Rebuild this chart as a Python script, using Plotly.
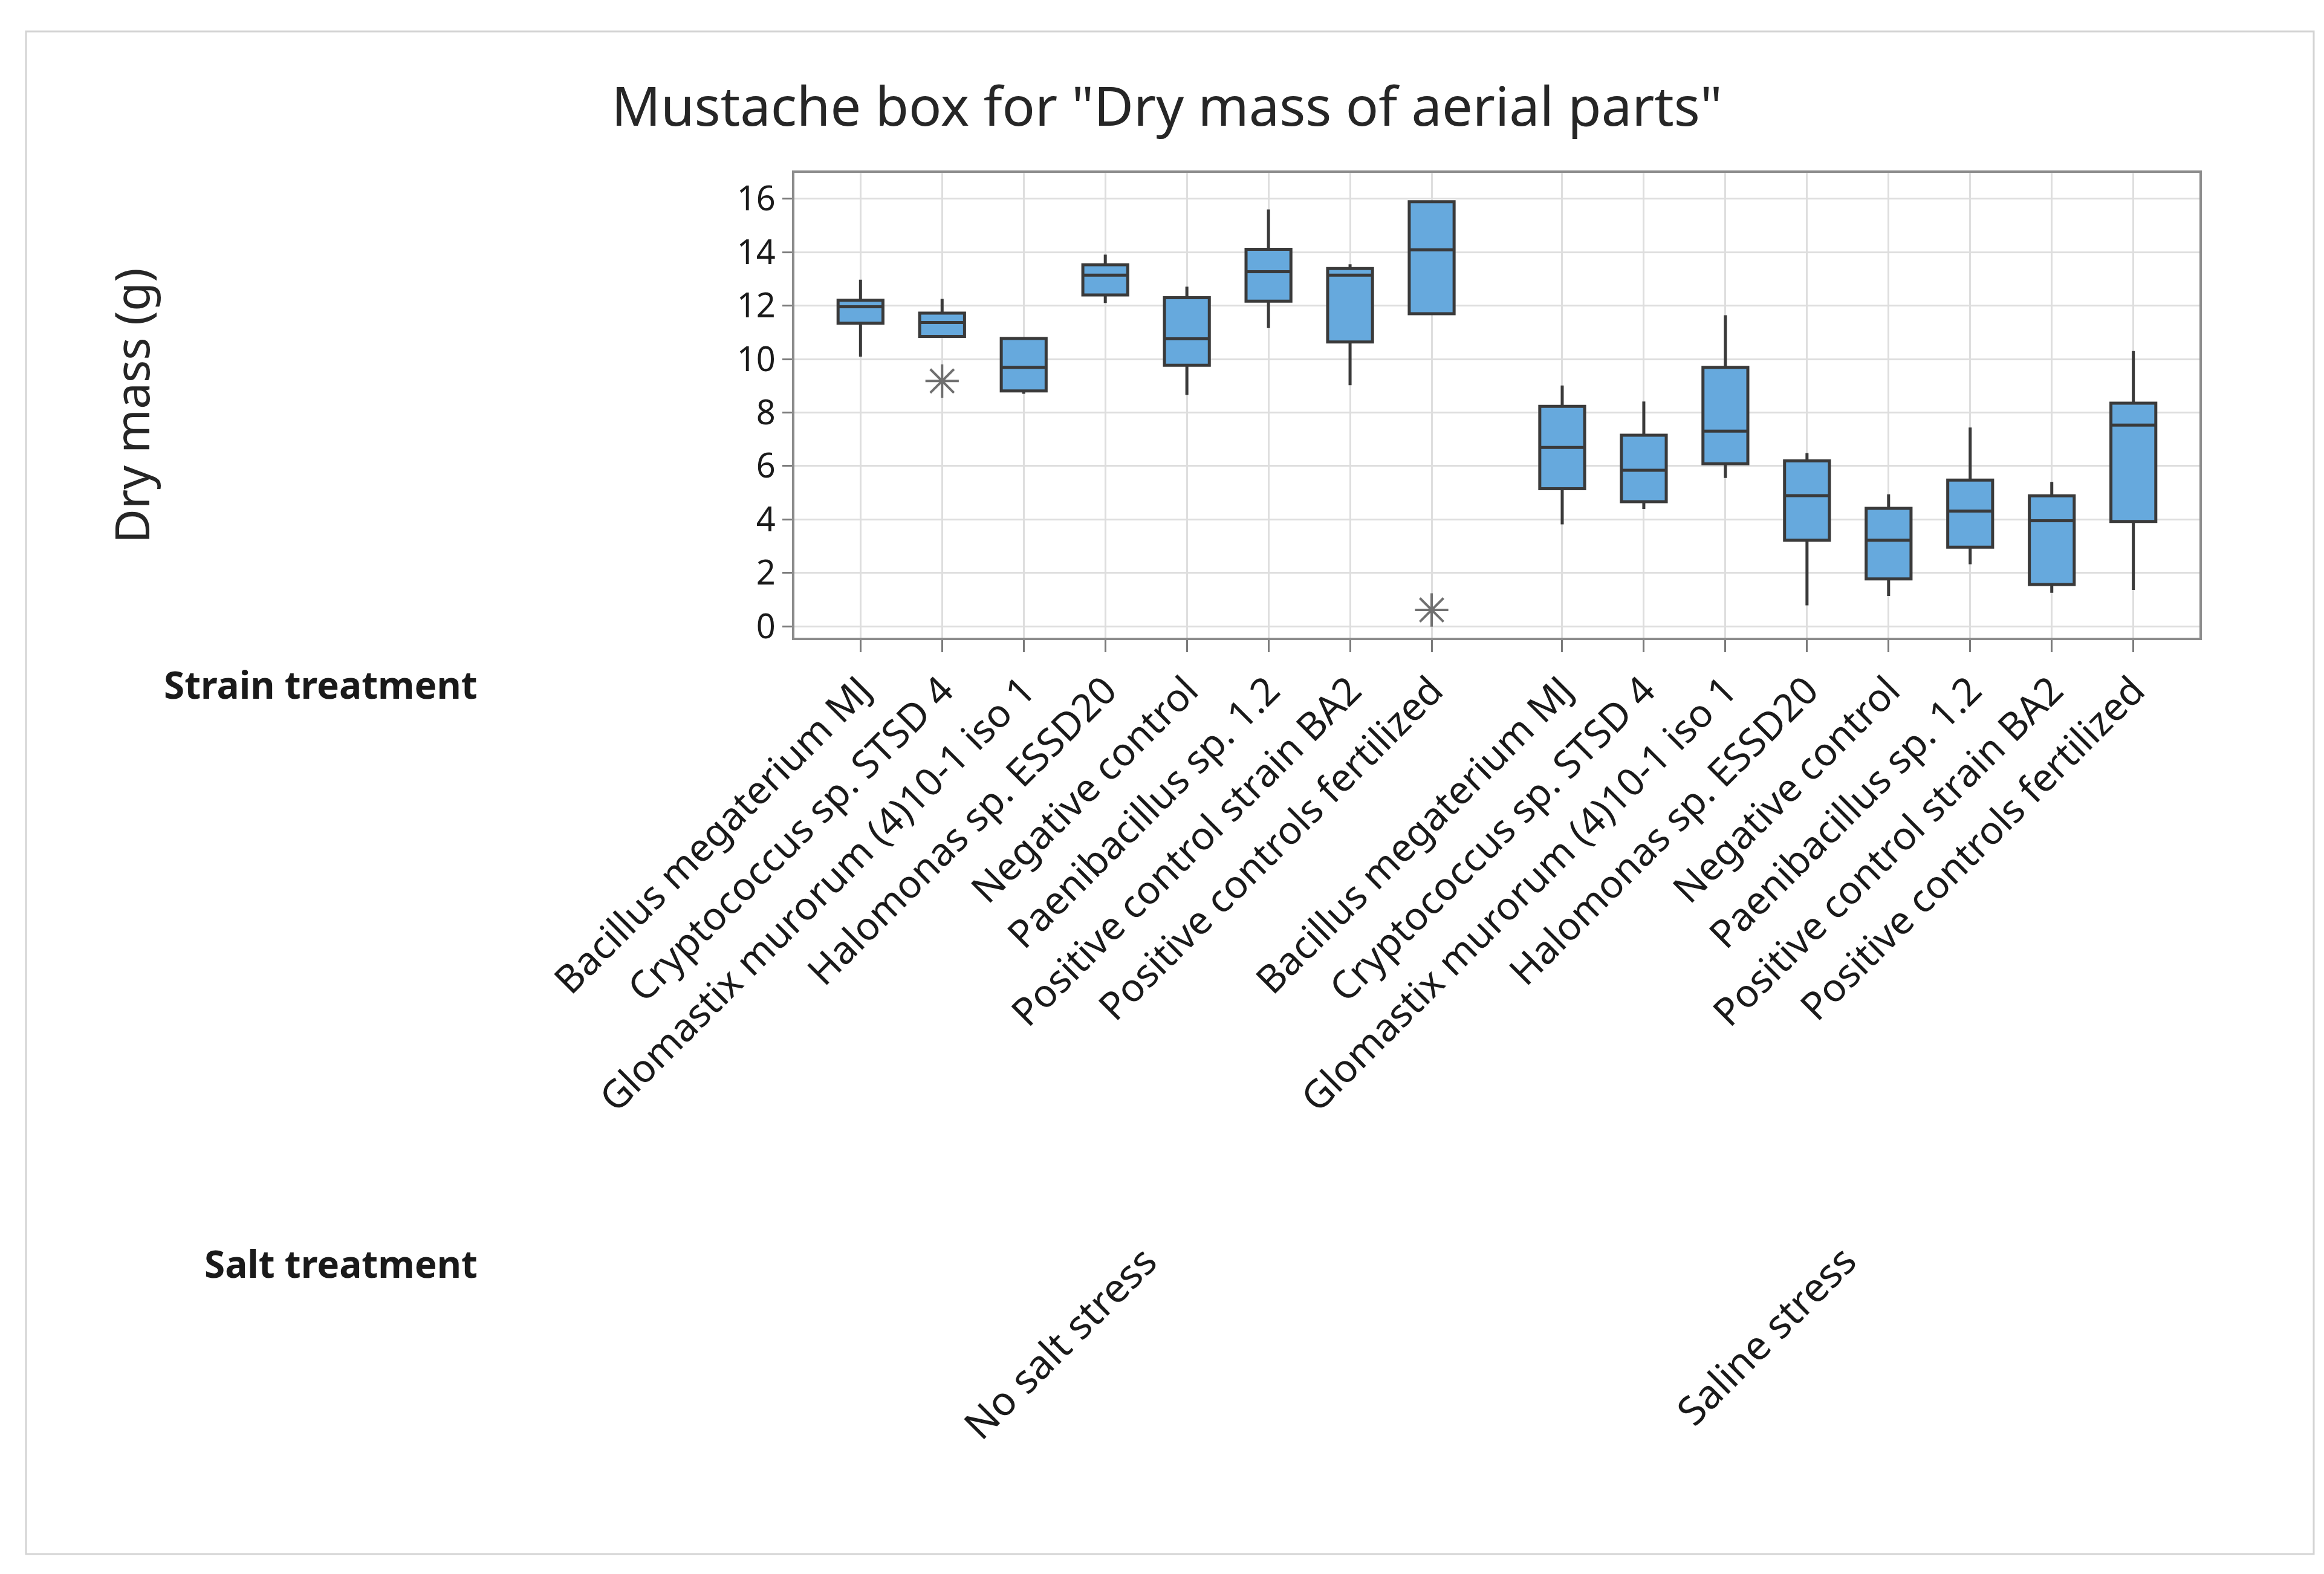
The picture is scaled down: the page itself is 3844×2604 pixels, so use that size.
import plotly.graph_objects as go

# ---------------- data ----------------
strains = [
    "Bacillus megaterium MJ",
    "Cryptococcus sp. STSD 4",
    "Glomastix murorum (4)10-1 iso 1",
    "Halomonas sp. ESSD20",
    "Negative control",
    "Paenibacillus sp. 1.2",
    "Positive control strain BA2",
    "Positive controls fertilized",
]
salt_groups = ["No salt stress", "Saline stress"]

# No salt stress
q1_no = [11.34, 10.85, 8.81, 12.40, 9.77, 12.17, 10.64, 11.70]
med_no = [11.96, 11.37, 9.69, 13.14, 10.76, 13.27, 13.14, 14.09]
q3_no = [12.20, 11.72, 10.77, 13.53, 12.30, 14.11, 13.39, 15.89]
lo_no = [10.09, 10.85, 8.70, 12.10, 8.66, 11.16, 9.02, 11.70]
hi_no = [12.97, 12.25, 10.77, 13.91, 12.71, 15.60, 13.55, 15.89]

# Saline stress
q1_sa = [5.15, 4.66, 6.08, 3.22, 1.77, 2.96, 1.56, 3.92]
med_sa = [6.69, 5.84, 7.30, 4.89, 3.22, 4.31, 3.95, 7.53]
q3_sa = [8.23, 7.15, 9.69, 6.19, 4.41, 5.47, 4.88, 8.35]
lo_sa = [3.81, 4.39, 5.55, 0.78, 1.13, 2.32, 1.25, 1.36]
hi_sa = [9.01, 8.41, 11.64, 6.48, 4.94, 7.44, 5.40, 10.30]

# outliers (strain index within "No salt stress", value)
outlier_idx = [1, 7]
outlier_val = [9.18, 0.61]

y_ticks = [0, 2, 4, 6, 8, 10, 12, 14, 16]

# ---------------- positions ----------------
GAP = 1.6
pos_no = [float(i) for i in range(len(strains))]
pos_sa = [len(strains) - 1 + GAP + i for i in range(len(strains))]
positions = pos_no + pos_sa

FONT = "Noto Sans"
BOX_FILL = "#66A9DD"
EDGE = "#3A3A3A"
GRID = "#DEDEDE"

fig = go.Figure()
fig.add_trace(go.Box(
    x=positions,
    q1=q1_no + q1_sa,
    median=med_no + med_sa,
    q3=q3_no + q3_sa,
    lowerfence=lo_no + lo_sa,
    upperfence=hi_no + hi_sa,
    width=0.55,
    whiskerwidth=0,
    fillcolor=BOX_FILL,
    line=dict(color=EDGE, width=5),
    boxpoints=False,
    showlegend=False,
    hoverinfo="skip",
))
fig.add_trace(go.Scatter(
    x=[pos_no[i] for i in outlier_idx],
    y=outlier_val,
    mode="markers",
    marker=dict(symbol="asterisk-open", size=46,
                line=dict(color="#707070", width=4), color="#707070"),
    showlegend=False,
    hoverinfo="skip",
))

W, H = 3844, 2604
L, R, T, B = 1306, 214, 278, 1557
pw = W - L - R
ph = H - T - B


def px_x(px):
    return (px - L) / pw


def px_y(py):
    return (H - B - py) / ph


fig.update_layout(
    width=W, height=H,
    margin=dict(l=L, r=R, t=T, b=B),
    paper_bgcolor="white",
    plot_bgcolor="white",
    font=dict(family=FONT, color="#1A1A1A"),
    title=dict(text='Mustache box for "Dry mass of aerial parts"',
               x=0.5, xref="container", xanchor="center",
               y=1 - 168 / H, yref="container", yanchor="middle",
               font=dict(family=FONT, size=90, color="#262626")),
    xaxis=dict(
        range=[-0.81, pos_sa[-1] + 0.81],
        tickmode="array",
        tickvals=positions,
        ticktext=strains + strains,
        tickangle=-45,
        tickfont=dict(family=FONT, size=64, color="#1A1A1A"),
        showgrid=True, gridcolor=GRID, gridwidth=3,
        ticks="outside", ticklen=20, tickwidth=3, tickcolor="#7A7A7A",
        showline=True, linecolor="#8C8C8C", linewidth=4, mirror=True,
        zeroline=False,
    ),
    yaxis=dict(
        range=[-0.43, 16.97],
        tickmode="array",
        tickvals=y_ticks,
        tickfont=dict(family=FONT, size=56, color="#1A1A1A"),
        showgrid=True, gridcolor=GRID, gridwidth=3,
        ticks="outside", ticklen=16, tickwidth=3, tickcolor="#7A7A7A",
        showline=True, linecolor="#8C8C8C", linewidth=4, mirror=True,
        zeroline=False,
    ),
    shapes=[dict(type="rect", xref="paper", yref="paper",
                 x0=px_x(35), x1=px_x(3819), y0=px_y(2563), y1=px_y(44),
                 line=dict(color="#D4D4D4", width=3), layer="below")],
    annotations=[
        dict(text="Dry mass (g)", xref="paper", yref="paper",
             x=px_x(209), y=px_y(663), textangle=-90, showarrow=False,
             xanchor="center", yanchor="middle",
             font=dict(family=FONT, size=78, color="#262626")),
        dict(text="<b>Strain treatment</b>", xref="paper", yref="paper",
             x=px_x(784), y=px_y(1124), showarrow=False,
             xanchor="right", yanchor="middle",
             font=dict(family=FONT, size=62, color="#1A1A1A")),
        dict(text="<b>Salt treatment</b>", xref="paper", yref="paper",
             x=px_x(784), y=px_y(2082), showarrow=False,
             xanchor="right", yanchor="middle",
             font=dict(family=FONT, size=62, color="#1A1A1A")),
        dict(text=salt_groups[0], xref="paper", yref="paper",
             x=px_x(1744), y=px_y(2212), textangle=-45, showarrow=False,
             xanchor="center", yanchor="middle",
             font=dict(family=FONT, size=66, color="#1A1A1A")),
        dict(text=salt_groups[1], xref="paper", yref="paper",
             x=px_x(2912), y=px_y(2200), textangle=-45, showarrow=False,
             xanchor="center", yanchor="middle",
             font=dict(family=FONT, size=66, color="#1A1A1A")),
    ],
)

fig.write_html("out.html")
